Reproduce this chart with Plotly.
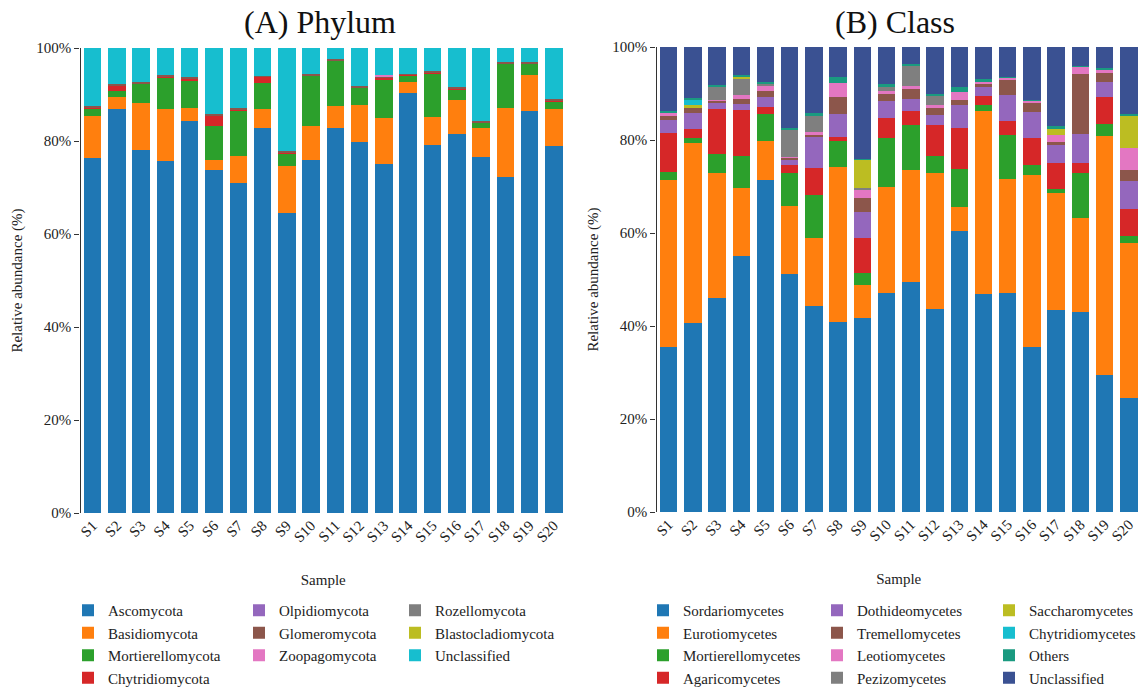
import plotly.graph_objects as go

samples = [f"S{i}" for i in range(1, 21)]

# ---------------- Phylum (A) ----------------
phylum_names = ["Ascomycota", "Basidiomycota", "Mortierellomycota", "Chytridiomycota",
                "Olpidiomycota", "Glomeromycota", "Zoopagomycota",
                "Rozellomycota", "Blastocladiomycota", "Unclassified"]
ascomycota = [76.3, 86.9, 78.1, 75.7, 84.4, 73.8, 71.0, 82.7, 64.5, 76.0,
              82.7, 79.7, 75.1, 90.3, 79.2, 81.5, 76.5, 72.2, 86.4, 79.0]
basidiomycota = [9.1, 2.6, 10.1, 11.2, 2.6, 2.1, 5.8, 4.2, 10.1, 7.2,
                 4.9, 8.0, 9.8, 2.3, 5.9, 7.4, 6.3, 14.9, 7.7, 7.9]
mortierellomycota = [1.5, 1.3, 4.1, 6.8, 5.9, 7.4, 9.8, 5.5, 2.7, 10.8,
                     9.7, 3.8, 8.4, 1.4, 9.5, 2.1, 1.1, 9.5, 2.5, 1.6]
chytridiomycota = [0.3, 1.2, 0.1, 0.2, 0.6, 2.2, 0.1, 1.4, 0.2, 0.1,
                   0.1, 0.1, 0.3, 0.2, 0.1, 0.2, 0.1, 0.1, 0.1, 0.2]
olpidiomycota = [0.0] * 20
glomeromycota = [0.3, 0.3, 0.2, 0.3, 0.2, 0.2, 0.3, 0.2, 0.3, 0.3,
                 0.3, 0.3, 0.3, 0.3, 0.3, 0.4, 0.3, 0.2, 0.2, 0.3]
zoopagomycota = [0.0, 0.0, 0.0, 0.0, 0.0, 0.0, 0.0, 0.0, 0.0, 0.0,
                 0.0, 0.0, 0.4, 0.0, 0.0, 0.0, 0.0, 0.0, 0.0, 0.0]
rozellomycota = [0.0] * 20
blastocladiomycota = [0.0] * 20
unclassified_p = [12.5, 7.7, 7.4, 5.8, 6.3, 14.3, 13.0, 6.0, 22.2, 5.6,
                  2.3, 8.1, 5.7, 5.5, 5.0, 8.4, 15.7, 3.1, 3.1, 11.0]
phylum_values = [ascomycota, basidiomycota, mortierellomycota, chytridiomycota,
                 olpidiomycota, glomeromycota, zoopagomycota,
                 rozellomycota, blastocladiomycota, unclassified_p]
phylum_colors = ["#1f77b4", "#ff7f0e", "#2ca02c", "#d62728", "#9467bd",
                 "#8c564b", "#e377c2", "#7f7f7f", "#bcbd22", "#17becf"]
phylum_legend = ["legend"] * 4 + ["legend2"] * 3 + ["legend3"] * 3

# ---------------- Class (B) ----------------
class_names = ["Sordariomycetes", "Eurotiomycetes", "Mortierellomycetes", "Agaricomycetes",
               "Dothideomycetes", "Tremellomycetes", "Leotiomycetes", "Pezizomycetes",
               "Saccharomycetes", "Chytridiomycetes", "Others", "Unclassified"]
sordariomycetes = [35.4, 40.6, 46.0, 55.1, 71.5, 51.2, 44.2, 40.9, 41.7, 47.0,
                   49.4, 43.6, 60.5, 46.8, 47.0, 35.5, 43.4, 43.1, 29.5, 24.6]
eurotiomycetes = [36.1, 38.8, 27.0, 14.6, 8.3, 14.6, 14.8, 33.3, 7.1, 22.8,
                  24.1, 29.2, 5.0, 39.5, 24.7, 37.0, 25.3, 20.2, 51.4, 33.3]
mortierellomycetes = [1.6, 1.1, 3.9, 6.8, 5.8, 7.0, 9.2, 5.5, 2.5, 10.6,
                      9.7, 3.8, 8.3, 1.3, 9.4, 2.2, 0.8, 9.5, 2.6, 1.5]
agaricomycetes = [8.4, 1.9, 9.8, 10.0, 1.4, 1.8, 5.7, 0.9, 7.6, 4.3,
                  3.0, 6.6, 8.8, 1.9, 2.9, 5.7, 5.6, 2.2, 5.7, 5.7]
dothideomycetes = [2.9, 3.5, 1.3, 1.2, 2.2, 1.2, 6.7, 5.1, 5.6, 3.6,
                   2.7, 2.2, 4.9, 2.0, 5.7, 5.7, 3.8, 6.3, 3.3, 6.0]
tremellomycetes = [0.8, 1.0, 0.5, 1.1, 1.3, 0.4, 0.5, 3.5, 3.0, 1.7,
                   2.0, 1.5, 1.0, 0.6, 3.2, 1.9, 0.7, 13.0, 2.0, 2.4]
leotiomycetes = [0.7, 0.0, 0.2, 0.8, 1.1, 0.2, 0.6, 3.0, 1.9, 0.5,
                 0.7, 0.6, 1.9, 0.4, 0.5, 0.4, 1.4, 1.5, 0.5, 4.8]
pezizomycetes = [0.0, 0.0, 2.8, 3.6, 0.5, 5.9, 3.5, 0.0, 0.3, 0.8,
                 4.5, 2.0, 0.0, 0.0, 0.0, 0.0, 0.0, 0.0, 0.0, 0.0]
saccharomycetes = [0.0, 0.6, 0.0, 0.4, 0.0, 0.0, 0.0, 0.0, 6.1, 0.0,
                   0.0, 0.0, 0.0, 0.0, 0.0, 0.0, 1.4, 0.0, 0.0, 6.9]
chytridiomycetes = [0.0, 1.2, 0.0, 0.0, 0.0, 0.0, 0.0, 0.0, 0.0, 0.0,
                    0.0, 0.0, 0.0, 0.0, 0.0, 0.0, 0.0, 0.0, 0.0, 0.0]
others = [0.4, 0.3, 0.4, 0.4, 0.4, 0.3, 0.6, 1.4, 0.2, 0.7,
          0.2, 0.4, 0.9, 0.6, 0.1, 0.3, 0.6, 0.1, 0.5, 0.4]
unclassified_c = [13.7, 11.0, 8.1, 6.0, 7.5, 17.4, 14.2, 6.4, 24.0, 8.0,
                  3.7, 10.1, 8.7, 6.9, 6.5, 11.3, 17.0, 4.1, 4.5, 14.4]
class_values = [sordariomycetes, eurotiomycetes, mortierellomycetes, agaricomycetes,
                dothideomycetes, tremellomycetes, leotiomycetes, pezizomycetes,
                saccharomycetes, chytridiomycetes, others, unclassified_c]
class_colors = ["#1f77b4", "#ff7f0e", "#2ca02c", "#d62728", "#9467bd", "#8c564b",
                "#e377c2", "#7f7f7f", "#bcbd22", "#17becf", "#1a9a80", "#3a5192"]
class_legend = ["legend4"] * 4 + ["legend5"] * 4 + ["legend6"] * 4

y_ticks = [0, 20, 40, 60, 80, 100]
y_ticktext = ["0%", "20%", "40%", "60%", "80%", "100%"]

SERIF = "Liberation Serif, Times New Roman, serif"
W, H = 1141, 687

fig = go.Figure()
for name, vals, col, lg in zip(phylum_names, phylum_values, phylum_colors, phylum_legend):
    fig.add_trace(go.Bar(x=samples, y=vals, name=name, marker_color=col,
                         marker_line_width=0, legend=lg, xaxis="x", yaxis="y"))
for name, vals, col, lg in zip(class_names, class_values, class_colors, class_legend):
    fig.add_trace(go.Bar(x=samples, y=vals, name=name, marker_color=col,
                         marker_line_width=0, legend=lg, xaxis="x2", yaxis="y2"))


def px_x(p):
    return p / W


def px_y(p):
    return (H - p) / H


xcommon = dict(type="category", tickangle=-45, showline=False, ticks="",
               showgrid=False, zeroline=False, range=[-0.5, 19.5], automargin=False,
               tickfont=dict(family=SERIF, size=15, color="#222"),
               title=dict(text="Sample", font=dict(family=SERIF, size=15, color="#222"), standoff=30))
ycommon = dict(range=[0, 100], tickvals=y_ticks, ticktext=y_ticktext, showline=True,
               linecolor="#333", linewidth=1.3, ticks="outside", ticklen=5, tickcolor="#333",
               showgrid=False, zeroline=False, automargin=False,
               tickfont=dict(family=SERIF, size=15, color="#222"),
               title=dict(text="Relative abundance (%)",
                          font=dict(family=SERIF, size=15, color="#222"),
                          standoff=10))

fig.update_layout(
    width=W, height=H, margin=dict(l=0, r=0, t=0, b=0, autoexpand=False),
    paper_bgcolor="white", plot_bgcolor="white",
    barmode="stack", bargap=0.28,
    xaxis=dict(domain=[px_x(80.5), px_x(566)], anchor="y", **xcommon),
    yaxis=dict(domain=[px_y(513), px_y(48)], anchor="x", **ycommon),
    xaxis2=dict(domain=[px_x(656.5), px_x(1141)], anchor="y2", **xcommon),
    yaxis2=dict(domain=[px_y(512), px_y(47)], anchor="x2", **ycommon),
    showlegend=True,
)

legend_font = dict(family=SERIF, size=15, color="#222")
legend_pos = {
    "legend": 108, "legend2": 279, "legend3": 435,
    "legend4": 683, "legend5": 857, "legend6": 1029,
}
for key, tx in legend_pos.items():
    fig.update_layout({key: dict(x=px_x(tx - 40), y=px_y(594), xanchor="left", yanchor="top",
                                 orientation="v", traceorder="normal", font=legend_font,
                                 bgcolor="rgba(0,0,0,0)", borderwidth=0,
                                 itemclick=False, itemdoubleclick=False)})

fig.add_annotation(text="(A) Phylum", x=px_x(320), y=px_y(22), xref="paper", yref="paper",
                   xanchor="center", yanchor="middle",
                   showarrow=False, font=dict(family=SERIF, size=32, color="#111"))
fig.add_annotation(text="(B) Class", x=px_x(895), y=px_y(22), xref="paper", yref="paper",
                   xanchor="center", yanchor="middle",
                   showarrow=False, font=dict(family=SERIF, size=32, color="#111"))

fig.write_html(
    "out.html",
    config={"displayModeBar": False},
    post_script="document.body.style.margin='0';document.body.style.overflow='hidden';",
)
